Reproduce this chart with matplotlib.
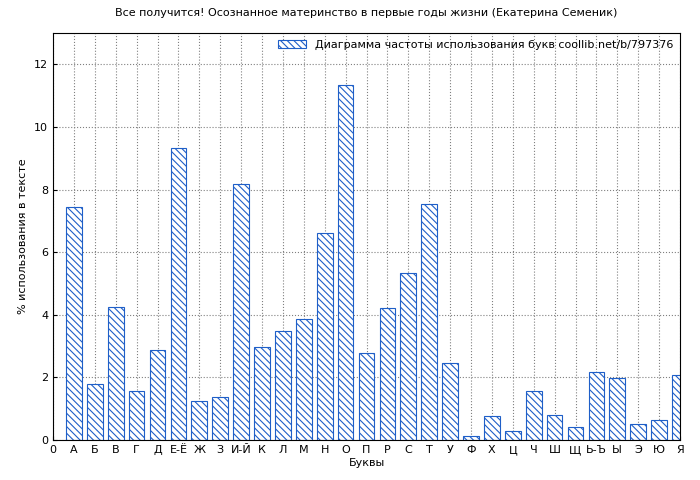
import matplotlib
matplotlib.use("Agg")
import matplotlib.pyplot as plt

letters = ["А","Б","В","Г","Д","Е-Ё","Ж","З","И-Й","К","Л","М","Н","О","П","Р","С","Т","У","Ф","Х","Ц","Ч","Ш","Щ","Ь-Ъ","Ы","Э","Ю","Я"]
values = [7.44,1.79,4.25,1.56,2.87,9.32,1.24,1.37,8.17,2.97,3.48,3.86,6.6,11.33,2.78,4.21,5.33,7.53,2.46,0.13,0.77,0.29,1.56,0.8,0.41,2.17,1.98,0.51,0.64,2.07]
tick_labels = ["0"] + letters

plt.rcParams['font.family'] = ['DejaVu Sans']
plt.rcParams['hatch.color'] = '#1f5fc8'
plt.rcParams['hatch.linewidth'] = 0.8
fig = plt.figure(figsize=(7, 4.8), dpi=100)
ax = fig.add_axes([53/700, 40/480, 627/700, 407/480])
x = list(range(1, len(letters) + 1))
ax.bar(x, values, width=0.75, facecolor='white', edgecolor='#1f5fc8', hatch='\\\\\\\\\\', linewidth=0.8,
       label='Диаграмма частоты использования букв coollib.net/b/797376', zorder=2)
ax.set_xlim(0, 30)
ax.set_ylim(0, 13)
ax.set_xticks(range(0, 31))
ax.set_xticklabels(tick_labels, fontsize=8)
ax.set_yticks(range(0, 13, 2))
ax.tick_params(labelsize=8, direction='in', length=3)
ax.grid(True, linestyle=':', color='#808080', linewidth=0.8, zorder=0)
ax.set_axisbelow(True)
ax.set_xlabel('Буквы', fontsize=8, labelpad=2)
ax.set_ylabel('% использования в тексте', fontsize=8)
ax.set_title('Все получится! Осознанное материнство в первые годы жизни (Екатерина Семеник)', fontsize=8, pad=12)
leg = ax.legend(loc='upper right', fontsize=8, frameon=False, handlelength=2.5, borderaxespad=0.2)
fig.savefig('out.png', dpi=100)
